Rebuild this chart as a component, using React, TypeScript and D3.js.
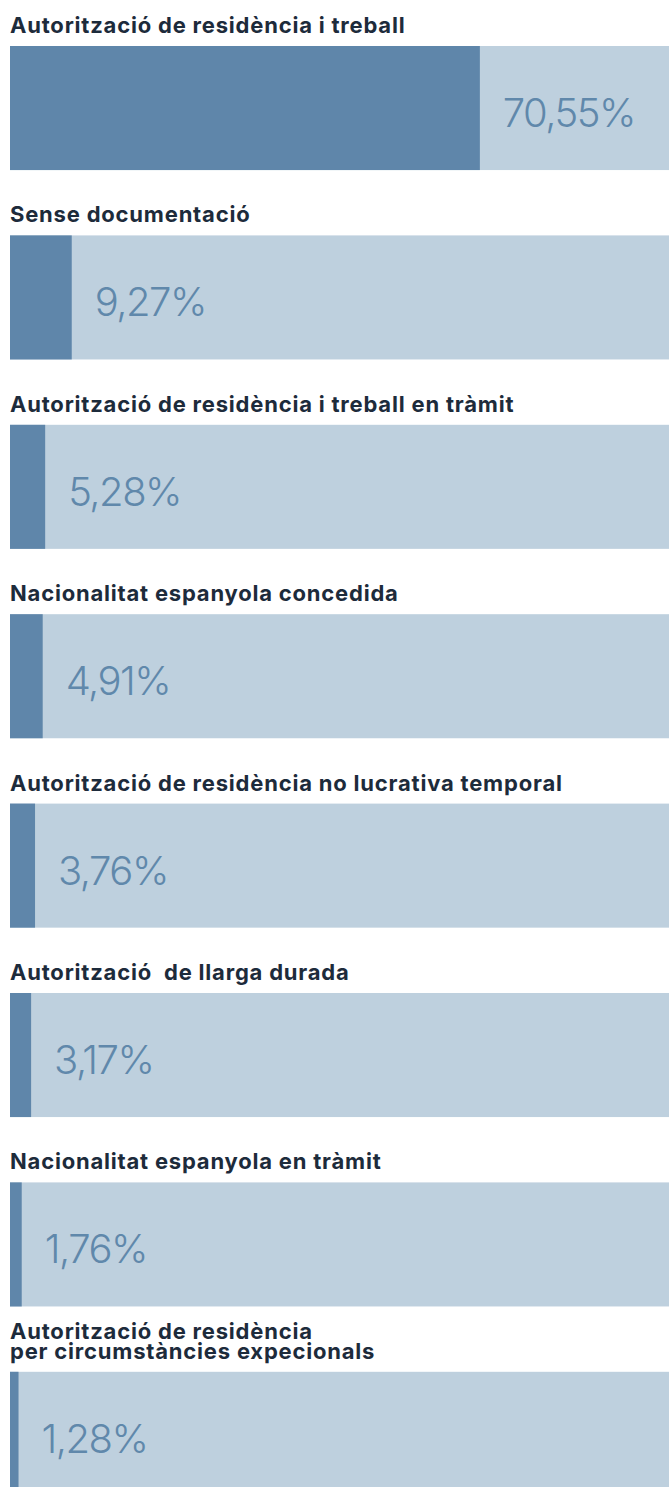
import React from "react";
import * as d3 from "d3";

// categories (line breaks marked with \n)
const categories = [
  "Autorització de residència i treball",
  "Sense documentació",
  "Autorització de residència i treball en tràmit",
  "Nacionalitat espanyola concedida",
  "Autorització de residència no lucrativa temporal",
  "Autorització  de llarga durada",
  "Nacionalitat espanyola en tràmit",
  "Autorització de residència\nper circumstàncies expecionals",
];

const values = [70.55, 9.27, 5.28, 4.91, 3.76, 3.17, 1.76, 1.28];

const width = 669;
const height = 1487;
const step = 189.4;
const pad = 0.345;
const top = 46;
const lineH = 20;

const fmt = (v: number) => d3.format(".2f")(v).replace(".", ",") + "%";

export default function App() {
  const x = d3.scaleLinear().domain([0, 100]).range([10, 676]);
  const y = d3
    .scaleBand()
    .domain(categories)
    .range([top, top + step * (categories.length - pad)])
    .paddingInner(pad)
    .paddingOuter(0);

  return (
    <>
      <style>{`body{margin:0}`}</style>
      <svg width={width} height={height} style={{ display: "block" }}>
        {categories.map((c, i) => {
          const y0 = y(c)!;
          const lines = c.split("\n");
          const v = values[i];
          return (
            <g key={c}>
              {/* title, one text element; extra lines as tspans */}
              <text
                x={10}
                y={y0 - 13 - (lines.length - 1) * lineH}
                fill="#1d2b3b"
                fontFamily="Inter, sans-serif"
                fontWeight={700}
                fontSize={22}
                letterSpacing={0.8}
                style={{ whiteSpace: "pre" }}
              >
                {lines.map((l, j) => (
                  <tspan key={j} x={10} dy={j === 0 ? 0 : lineH}>
                    {l}
                  </tspan>
                ))}
              </text>
              <rect x={x(0)} y={y0} width={width - x(0)} height={y.bandwidth()} fill="#bed0de" />
              <rect x={x(0)} y={y0} width={x(v) - x(0)} height={y.bandwidth()} fill="#5f86aa" />
              <text
                x={x(v) + 23}
                y={y0 + y.bandwidth() / 2 + 19}
                fill="#6088ab"
                fontFamily="Inter, sans-serif"
                fontWeight={300}
                fontSize={40}
                letterSpacing={-1.5}
              >
                {fmt(v)}
              </text>
            </g>
          );
        })}
      </svg>
    </>
  );
}
